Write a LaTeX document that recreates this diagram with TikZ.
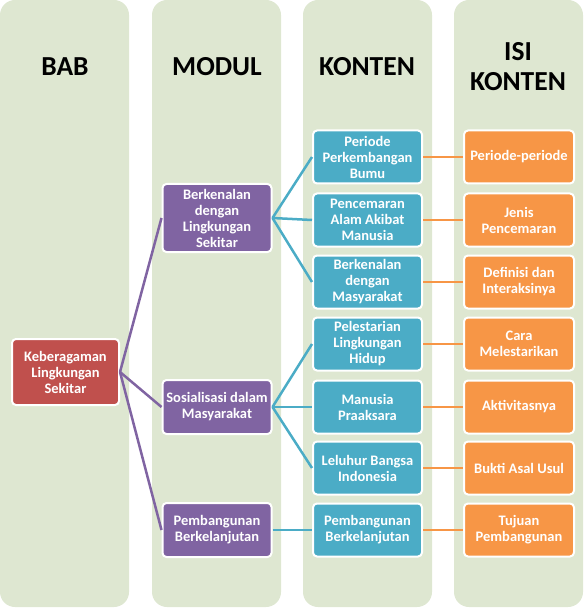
\documentclass[tikz,border=0pt]{standalone}
\usepackage{fontspec}
\setmainfont{Carlito}
\definecolor{colbg}{RGB}{222,231,209}
\definecolor{babred}{RGB}{192,80,77}
\definecolor{modpurple}{RGB}{128,100,162}
\definecolor{konblue}{RGB}{75,172,198}
\definecolor{isiorange}{RGB}{247,150,70}
\begin{document}
\begin{tikzpicture}[x=1pt, y=-1pt,
  column/.style={fill=colbg, rounded corners=15pt},
  head/.style={font=\bfseries\fontsize{27.5}{30}\selectfont, align=center},
  box/.style={draw=white, line width=2pt, rounded corners=4pt, text=white, align=center,
    inner sep=1pt, font=\bfseries\fontsize{14.5}{16}\selectfont},
  babbox/.style={box, fill=babred, minimum width=107pt, minimum height=66pt},
  modbox/.style={box, fill=modpurple, minimum width=109pt, minimum height=54pt},
  konbox/.style={box, fill=konblue, minimum width=109pt, minimum height=53pt},
  isibox/.style={box, fill=isiorange, minimum width=110pt, minimum height=53pt},
  link/.style={line width=2.5pt}]
  \useasboundingbox (0,0) rectangle (584,612);
  \foreach \x in {0,152,303,454}
    \fill[column] (\x,0) rectangle ++(129,607);
  \node[head] (hbab) at (65,67) {BAB};
  \node[head] (hmod) at (217,67) {MODUL};
  \node[head] (hkon) at (367,67) {KONTEN};
  \node[head] (hisi) at (518,67) {ISI\\KONTEN};
  \node[babbox] (bab) at (65.5,372) {Keberagaman\\Lingkungan\\Sekitar};
  \node[modbox, minimum height=68pt] (m1) at (217,218) {Berkenalan\\dengan\\Lingkungan\\Sekitar};
  \node[modbox] (m2) at (217,407) {Sosialisasi dalam\\Masyarakat};
  \node[modbox] (m3) at (217,530) {Pembangunan\\Berkelanjutan};
  \foreach \i/\y/\kon/\isi in {
      1/157/{Periode\\Perkembangan\\Bumu}/{Periode-periode},
      2/220/{Pencemaran\\Alam Akibat\\Manusia}/{Jenis\\Pencemaran},
      3/282/{Berkenalan\\dengan\\Masyarakat}/{Definisi dan\\Interaksinya},
      4/344/{Pelestarian\\Lingkungan\\Hidup}/{Cara\\Melestarikan},
      5/407/{Manusia\\Praaksara}/{Aktivitasnya},
      6/468/{Leluhur Bangsa\\Indonesia}/{Bukti Asal Usul},
      7/530/{Pembangunan\\Berkelanjutan}/{Tujuan\\Pembangunan}} {
    \node[konbox] (k\i) at (367.5,\y) {\kon};
    \node[isibox] (i\i) at (519,\y) {\isi};
    \draw[link, isiorange] (k\i.east) -- (i\i.west);
  }
  \foreach \m in {m1,m2,m3}
    \draw[link, modpurple] (bab.east) -- (\m.west);
  \foreach \m/\k in {m1/k1,m1/k2,m1/k3,m2/k4,m2/k5,m2/k6,m3/k7}
    \draw[link, konblue] (\m.east) -- (\k.west);
\end{tikzpicture}
\end{document}
